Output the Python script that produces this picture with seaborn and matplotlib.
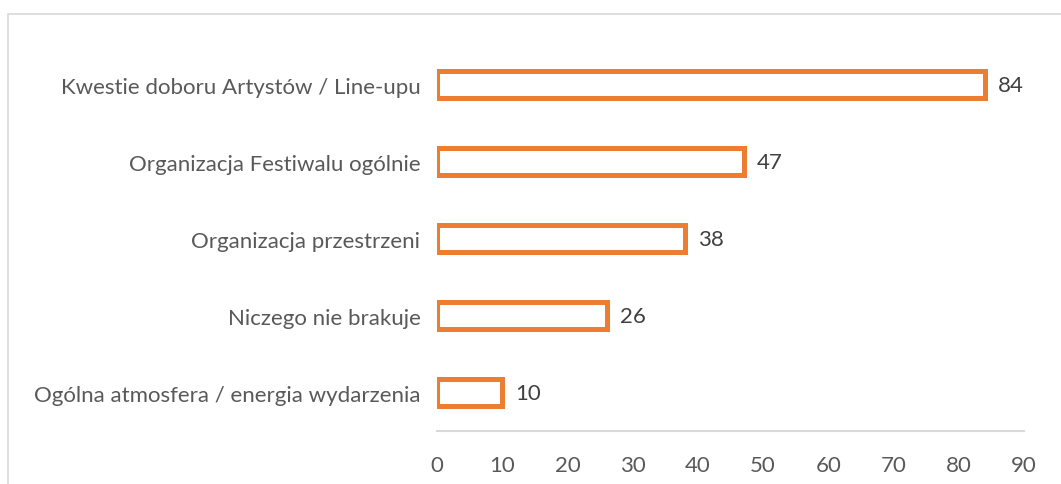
import pandas as pd
import seaborn as sns
import matplotlib.pyplot as plt
from matplotlib.patches import Rectangle

categories = [
    'Kwestie doboru Artystów / Line-upu',
    'Organizacja Festiwalu ogólnie',
    'Organizacja przestrzeni',
    'Niczego nie brakuje',
    'Ogólna atmosfera / energia wydarzenia',
]
values = [84, 47, 38, 26, 10]
xticks = [0, 10, 20, 30, 40, 50, 60, 70, 80, 90]

df = pd.DataFrame({'cat': categories, 'val': values})

sns.set_style('white')
plt.rcParams['font.family'] = ['Lato', 'DejaVu Sans']

fig = plt.figure(figsize=(10.61, 4.85), dpi=100)
ax = fig.add_axes([0.412, 0.109, 0.553, 0.794])

sns.barplot(data=df, x='val', y='cat', orient='h', ax=ax, width=0.36,
            facecolor='white', edgecolor='#ED7D31', linewidth=3.6)

for i, v in enumerate(values):
    ax.text(v + 2.0, i, str(v), va='center', ha='left', fontsize=16, color='#404040')

ax.set_xlim(0, 90)
ax.set_xticks(xticks)
ax.set_xlabel('')
ax.set_ylabel('')
for s in ['top', 'right', 'left']:
    ax.spines[s].set_visible(False)
ax.spines['bottom'].set_color('#d9d9d9')
ax.spines['bottom'].set_linewidth(1.5)
ax.tick_params(axis='x', length=0, pad=17, labelsize=16, labelcolor='#595959')
ax.tick_params(axis='y', length=0, pad=12, labelsize=16, labelcolor='#595959')

# outer chart frame (partly cut off)
fig.patches.append(Rectangle((8 / 1061, -0.2), 1.2, 1.2 - 15 / 485,
                             transform=fig.transFigure, fill=False,
                             edgecolor='#d9d9d9', linewidth=1.2))

fig.savefig('out.png', dpi=100)
